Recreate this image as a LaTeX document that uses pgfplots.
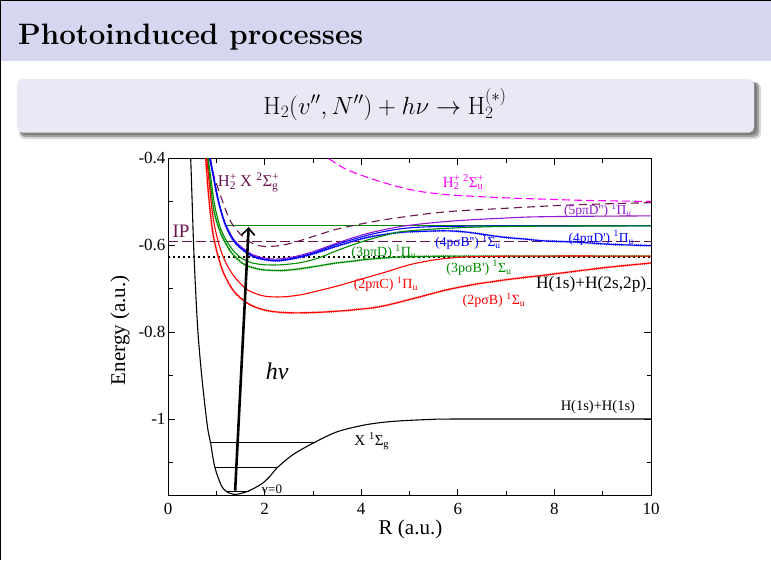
\documentclass[border=0pt]{standalone}
\usepackage{fontspec}
\usepackage{pgfplots}
\pgfplotsset{compat=1.18}
\usetikzlibrary{arrows.meta}
\newfontfamily\gr{Liberation Serif}
\definecolor{band}{HTML}{D6D6F0}
\definecolor{blockbg}{HTML}{E9E9F5}
\definecolor{maroon}{HTML}{6A1450}
\definecolor{grn}{HTML}{008C00}
\definecolor{viol}{HTML}{9418D0}
\definecolor{mag}{HTML}{FF00FF}
\newcommand\subsup[2]{\rlap{\textsuperscript{#2}}\textsubscript{#1}}
\newcommand\lab[1]{\gr\fontsize{#1}{#1}\selectfont}

\begin{document}
\begin{tikzpicture}[x=1pt,y=1pt]
\useasboundingbox (0,0) rectangle (771,-560);
\fill[white] (0,0) rectangle (771,-560);
% header band
\fill[band] (0,0) rectangle (771,-61);
\draw[black, line width=2pt] (0,-560) -- (0,0) -- (771,0);
\node[anchor=base west, inner sep=0pt, font=\fontsize{29.5}{29.5}\selectfont\bfseries] at (18,-44) {Photoinduced processes};
% formula block with shadow
\fill[black, opacity=0.15, rounded corners=6pt] (19,-82) rectangle (761,-139);
\fill[black, opacity=0.25, rounded corners=5pt] (20,-82) rectangle (759,-137);
\fill[black!60, opacity=0.6, rounded corners=5pt] (20,-82) rectangle (757,-135);
\fill[blockbg, rounded corners=5pt] (17,-79) rectangle (754,-132.5);
\node[anchor=base, font=\fontsize{25}{25}\selectfont] at (385,-114) {$\mathrm{H}_2(v'',N'')+h\nu\to\mathrm{H}_2^{(*)}$};

\begin{axis}[
  at={(168pt,-495.5pt)}, anchor=south west,
  scale only axis, width=483pt, height=337.2pt,
  xmin=0, xmax=10, ymin=-1.176, ymax=-0.4,
  xtick={0,2,4,6,8,10}, minor xtick={1,3,5,7,9},
  xticklabels={0,2,4,6,8,10},
  ytick={-1,-0.8,-0.6,-0.4}, minor ytick={-1.1,-0.9,-0.7,-0.5},
  yticklabels={-1,-0.8,-0.6,-0.4},
  tick align=inside, major tick length=7pt, minor tick length=4.5pt,
  tick style={black, line width=0.8pt},
  axis line style={black, line width=0.9pt},
  tick label style={font=\lab{17}},
  xticklabel style={yshift=-4.5pt},
  yticklabel style={xshift=1pt},
  xlabel={R (a.u.)}, ylabel={Energy (a.u.)},
  label style={font=\lab{21}},
  xlabel style={at={(axis description cs:0.502,-0.1)}, anchor=center},
  ylabel style={at={(axis description cs:-0.099,0.49)}, anchor=center},
  every axis plot/.append style={line width=1.1pt},
  tickline/.style={postaction={draw, line width=2.3pt, dash pattern=on 0.5pt off 1.6pt}},
]
% ground state X 1Sigma_g
\addplot[black, smooth] coordinates {(0.45,-0.35)(0.47,-0.40)(0.50,-0.50)(0.53,-0.60)(0.57,-0.70)(0.62,-0.80)(0.68,-0.88)(0.74,-0.945)(0.82,-1.02)(0.88,-1.054)(0.97,-1.111)(1.10,-1.152)(1.20,-1.166)(1.30,-1.1715)(1.40,-1.1735)(1.52,-1.171)(1.68,-1.165)(1.93,-1.150)(2.10,-1.133)(2.27,-1.111)(2.6,-1.081)(3.03,-1.054)(3.51,-1.029)(4.07,-1.0137)(4.5,-1.007)(4.89,-1.0037)(5.44,-1.001)(6,-1.0)(10,-1.0)};
% vibrational levels
\addplot[black, line width=0.7pt] coordinates {(1.20,-1.1655)(1.68,-1.1655)};
\addplot[black, line width=0.7pt] coordinates {(0.97,-1.111)(2.27,-1.111)};
\addplot[black, line width=0.7pt] coordinates {(0.876,-1.054)(3.03,-1.054)};
% asymptote / ionisation lines
\addplot[maroon, line width=1pt, dash pattern=on 10pt off 4pt] coordinates {(0,-0.5905)(10,-0.5905)};
\addplot[black, line width=2.2pt, dash pattern=on 2pt off 3pt] coordinates {(0,-0.6265)(10,-0.6265)};
\addplot[grn, line width=1pt] coordinates {(1.18,-0.5556)(10,-0.5556)};
% H2+ states
\addplot[maroon, smooth, dash pattern=on 8pt off 5pt] coordinates {(0.84,-0.37)(0.86,-0.40)(0.95,-0.44)(1.10,-0.49)(1.30,-0.546)(1.58,-0.584)(1.80,-0.598)(2.0,-0.603)(2.3,-0.601)(2.6,-0.594)(3.0,-0.580)(3.5,-0.563)(4.0,-0.551)(4.5,-0.541)(5.0,-0.533)(5.5,-0.526)(6.0,-0.521)(7.0,-0.515)(8.0,-0.509)(9.0,-0.505)(10,-0.502)};
\addplot[mag, smooth, dash pattern=on 8pt off 4pt] coordinates {(3.1,-0.39)(3.31,-0.40)(3.72,-0.427)(4.41,-0.454)(5.05,-0.473)(5.7,-0.483)(6.41,-0.488)(7.1,-0.4915)(7.79,-0.494)(8.5,-0.4965)(9.2,-0.498)(10,-0.4995)};
% n=4 and n=3 states
\addplot[viol, smooth] coordinates {(0.86,-0.38)(0.88,-0.40)(0.925,-0.431)(1.03,-0.492)(1.17,-0.546)(1.37,-0.588)(1.65,-0.615)(1.86,-0.626)(2.2,-0.632)(2.55,-0.628)(3.0,-0.615)(3.5,-0.595)(4.13,-0.573)(4.82,-0.557)(5.51,-0.548)(6.2,-0.542)(6.9,-0.538)(7.5,-0.535)(8.5,-0.5335)(10,-0.5325)};
\addplot[blue, smooth] coordinates {(0.85,-0.38)(0.87,-0.40)(0.93,-0.435)(1.04,-0.496)(1.18,-0.55)(1.38,-0.592)(1.65,-0.618)(1.86,-0.629)(2.2,-0.635)(2.55,-0.631)(3.0,-0.618)(3.5,-0.598)(4.13,-0.577)(4.6,-0.566)(5.0,-0.560)(5.5,-0.5572)(6.2,-0.5562)(7,-0.5558)(10,-0.5556)};
\addplot[blue, smooth, tickline] coordinates {(0.85,-0.38)(0.87,-0.40)(0.93,-0.436)(1.04,-0.497)(1.18,-0.551)(1.38,-0.593)(1.65,-0.619)(1.86,-0.630)(2.2,-0.636)(2.55,-0.632)(3.0,-0.620)(3.5,-0.602)(4.13,-0.582)(4.82,-0.5705)(5.51,-0.5673)(5.8,-0.567)(6.2,-0.570)(6.9,-0.581)(7.4,-0.586)(7.79,-0.590)(8.48,-0.593)(9.17,-0.598)(10,-0.601)};
\addplot[grn, smooth] coordinates {(0.81,-0.37)(0.83,-0.40)(0.88,-0.44)(0.97,-0.51)(1.10,-0.565)(1.30,-0.605)(1.50,-0.628)(1.72,-0.640)(2.0,-0.645)(2.35,-0.645)(2.75,-0.640)(3.1,-0.630)(3.44,-0.615)(3.8,-0.600)(4.13,-0.588)(4.5,-0.577)(4.82,-0.569)(5.51,-0.5627)(6.2,-0.559)(6.9,-0.557)(8,-0.556)(10,-0.5556)};
\addplot[grn, smooth, tickline] coordinates {(0.80,-0.37)(0.82,-0.40)(0.87,-0.45)(0.95,-0.52)(1.10,-0.575)(1.30,-0.615)(1.50,-0.638)(1.70,-0.650)(2.0,-0.657)(2.4,-0.658)(2.75,-0.654)(3.1,-0.648)(3.44,-0.6416)(3.8,-0.637)(4.13,-0.6325)(4.5,-0.629)(4.82,-0.627)(5.5,-0.6255)(6.5,-0.625)(10,-0.625)};
% n=2 states
\addplot[red, smooth] coordinates {(0.78,-0.38)(0.80,-0.40)(0.83,-0.431)(0.925,-0.530)(1.03,-0.588)(1.17,-0.634)(1.37,-0.672)(1.65,-0.703)(1.99,-0.717)(2.34,-0.719)(2.7,-0.715)(3.03,-0.707)(3.5,-0.694)(4.0,-0.678)(4.5,-0.662)(5.0,-0.645)(5.5,-0.634)(6.0,-0.628)(6.5,-0.626)(7.5,-0.625)(10,-0.625)};
\addplot[red, smooth, tickline] coordinates {(0.76,-0.38)(0.78,-0.40)(0.84,-0.485)(0.925,-0.569)(1.03,-0.623)(1.17,-0.669)(1.37,-0.707)(1.65,-0.734)(1.99,-0.749)(2.4,-0.755)(3.0,-0.755)(3.72,-0.750)(4.41,-0.741)(5.1,-0.722)(5.8,-0.702)(6.41,-0.689)(7.1,-0.678)(7.79,-0.669)(8.5,-0.659)(9.17,-0.650)(10,-0.641)};
% excitation arrow
\draw[black, line width=2.6pt, -{Straight Barb[length=7pt,width=13pt,line width=1.6pt]}] (axis cs:1.39,-1.165) -- (axis cs:1.67,-0.558);
% labels
\node[text=maroon, font=\lab{16.5}] at (axis cs:1.66,-0.455) {H\subsup{2}{+} X \textsuperscript{2}Σ\subsup{g}{+}};
\node[text=mag, font=\lab{15}] at (axis cs:6.11,-0.455) {H\subsup{2}{+} \textsuperscript{2}Σ\subsup{u}{+}};
\node[text=viol, font=\lab{13.5}] at (axis cs:8.90,-0.519) {(5pπD'') \textsuperscript{1}Π\textsubscript{u}};
\node[text=blue, font=\lab{13.5}] at (axis cs:8.97,-0.583) {(4pπD') \textsuperscript{1}Π\textsubscript{u}};
\node[text=blue, font=\lab{13.5}] at (axis cs:6.21,-0.593) {(4pσB'') \textsuperscript{1}Σ\textsubscript{u}};
\node[text=grn, font=\lab{14}] at (axis cs:4.47,-0.616) {(3pπD) \textsuperscript{1}Π\textsubscript{u}};
\node[text=grn, font=\lab{14}] at (axis cs:6.44,-0.652) {(3pσB') \textsuperscript{1}Σ\textsubscript{u}};
\node[text=black, font=\lab{17.3}] at (axis cs:8.76,-0.691) {H(1s)+H(2s,2p)};
\node[text=red, font=\lab{14}] at (axis cs:4.51,-0.689) {(2pπC) \textsuperscript{1}Π\textsubscript{u}};
\node[text=red, font=\lab{14}] at (axis cs:6.75,-0.726) {(2pσB) \textsuperscript{1}Σ\textsubscript{u}};
\node[text=maroon, font=\lab{19}] at (axis cs:0.27,-0.567) {IP};
\node[font=\lab{24}\itshape] at (axis cs:2.26,-0.889) {hν};
\node[font=\lab{14.5}] at (axis cs:8.90,-0.972) {H(1s)+H(1s)};
\node[font=\lab{15}] at (axis cs:4.22,-1.051) {X \textsuperscript{1}Σ\textsubscript{g}};
\node[font=\lab{13}] at (axis cs:2.15,-1.162) {v=0};
\end{axis}
\end{tikzpicture}
\end{document}
